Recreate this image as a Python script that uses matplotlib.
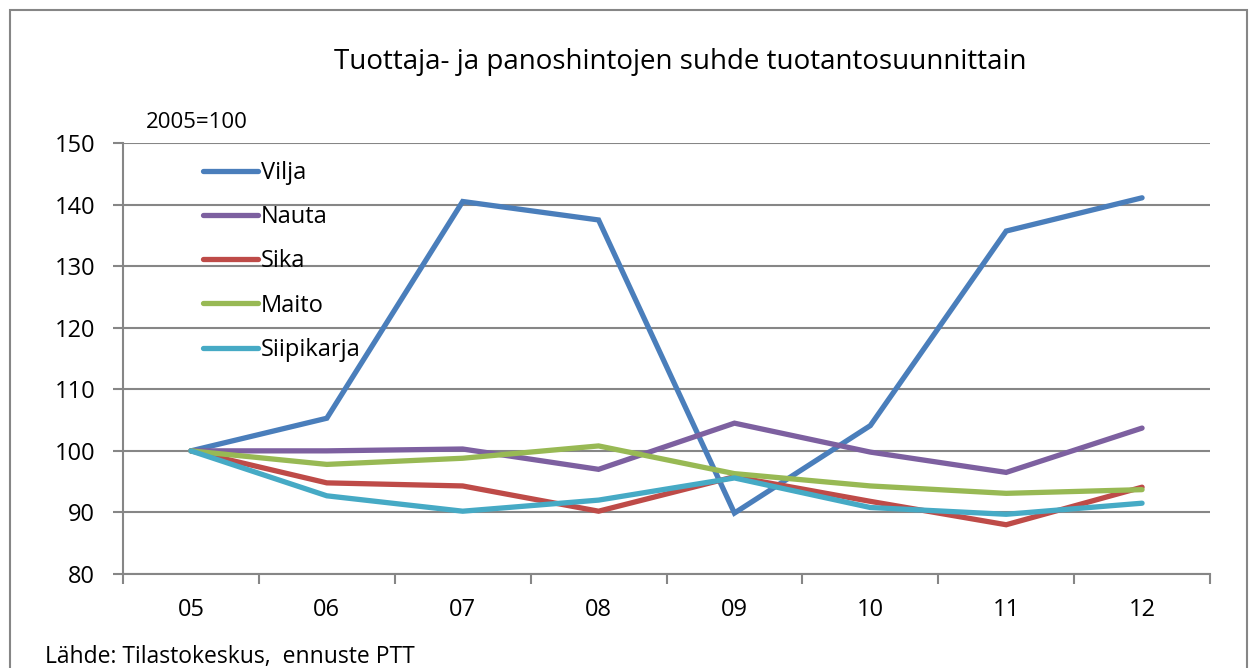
import numpy as np
import matplotlib.pyplot as plt
from matplotlib.patches import Rectangle

plt.rcParams['font.family'] = ['Open Sans', 'DejaVu Sans']

years = ['05', '06', '07', '08', '09', '10', '11', '12']
vilja = [100, 105.3, 140.5, 137.5, 89.9, 104.1, 135.7, 141.1]
nauta = [100, 100.0, 100.3, 97.0, 104.5, 99.8, 96.5, 103.7]
sika = [100, 94.8, 94.3, 90.2, 95.8, 91.8, 88.0, 94.1]
maito = [100, 97.8, 98.8, 100.8, 96.3, 94.3, 93.1, 93.7]
siipikarja = [100, 92.7, 90.2, 92.0, 95.6, 90.8, 89.7, 91.5]

series = [('Vilja', vilja, '#4a7ebb'),
          ('Nauta', nauta, '#7d60a0'),
          ('Sika', sika, '#be4b48'),
          ('Maito', maito, '#98b954'),
          ('Siipikarja', siipikarja, '#46aac5')]

fig = plt.figure(figsize=(12.49, 6.68), dpi=100)
ax = fig.add_axes([123 / 1249, 1 - 574 / 668, (1210 - 123) / 1249, (574 - 143) / 668])

x = np.arange(len(years))
for name, vals, col in series:
    ax.plot(x, vals, color=col, lw=3.8, label=name, solid_capstyle='round', solid_joinstyle='miter')

grey = '#868686'
ax.set_ylim(80, 150)
ax.set_yticks(np.arange(80, 151, 10))
ax.set_xlim(-0.5, len(years) - 0.5)
ax.set_xticks(x)
ax.set_xticklabels(years)
ax.set_xticks(np.arange(-0.5, len(years)), minor=True)
ax.grid(axis='y', color=grey, lw=1.5)
ax.set_axisbelow(True)
for s in ['top', 'right']:
    ax.spines[s].set_visible(False)
for s in ['left', 'bottom']:
    ax.spines[s].set_color(grey)
    ax.spines[s].set_linewidth(1.5)
ax.tick_params(axis='y', length=7, width=1.5, color=grey, labelsize=17, pad=13)
ax.tick_params(axis='x', which='major', length=0, labelsize=17, pad=17)
ax.tick_params(axis='x', which='minor', length=7, width=1.5, color=grey)

leg = ax.legend(loc='upper left', bbox_to_anchor=(0.058, 0.997), frameon=False,
                fontsize=17, handlelength=2.35, handletextpad=0.13, labelspacing=0.86,
                borderaxespad=0.3)

fig.text(680 / 1249, 1 - 62 / 668, 'Tuottaja- ja panoshintojen suhde tuotantosuunnittain',
         ha='center', va='center', fontsize=20)
fig.text(146 / 1249, 1 - 122 / 668, '2005=100', ha='left', va='center', fontsize=16)
fig.text(45 / 1249, 1 - 657 / 668, 'Lähde: Tilastokeskus,  ennuste PTT', ha='left', va='center', fontsize=16.5)

fig.patches.append(Rectangle((10 / 1249, -0.1), (1247 - 10) / 1249, 1.1 - 10 / 668,
                             transform=fig.transFigure, fill=False, ec=grey, lw=1.5))

fig.savefig('out.png', dpi=100)
